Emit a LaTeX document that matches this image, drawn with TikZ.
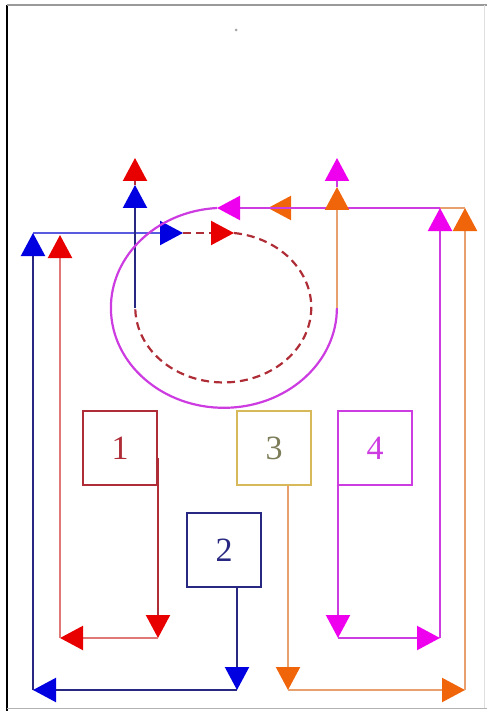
\documentclass[tikz,border=0pt]{standalone}
\usepackage{fontspec}
\setmainfont{Liberation Serif}
\usetikzlibrary{positioning,arrows.meta}
\definecolor{redtip}{RGB}{232,0,0}
\definecolor{redd}{RGB}{175,45,55}
\definecolor{redl}{RGB}{225,120,120}
\definecolor{bluetip}{RGB}{0,0,225}
\definecolor{bluel}{RGB}{40,40,130}
\definecolor{bluem}{RGB}{90,90,225}
\definecolor{magtip}{RGB}{238,0,238}
\definecolor{magl}{RGB}{205,60,225}
\definecolor{ortip}{RGB}{240,100,10}
\definecolor{orl}{RGB}{232,160,110}
\definecolor{boxy}{RGB}{215,185,90}
\definecolor{txty}{RGB}{125,125,90}

\begin{document}
\begin{tikzpicture}[x=1pt,y=-1pt,
    box/.style={draw,line width=1.8pt,minimum size=74pt,inner sep=0pt,font=\fontsize{34}{34}\selectfont},
    arr/.style={-{Triangle[length=23pt,width=24pt,color=#1]}},
    ln/.style={line width=2.2pt},
    dsh/.style={dash pattern=on 8pt off 5pt}]
    \useasboundingbox (0,0) rectangle (487,711);
    \draw[black,line width=2.5pt] (7,5) -- (7,711);
    \draw[gray!80,line width=1.5pt] (7,5) -- (487,5);
    \draw[gray!60,line width=1pt] (7,708) -- (487,708);
    \draw[gray!25,line width=1pt] (484,5) -- (484,708);
    \fill[gray!70] (236,30) circle (1.5pt);
    \node[box,draw=redd,text=redd] (b1) at (120,448) {1};
    \node[box,draw=bluel,text=bluel] (b2) at (224,550) {2};
    \node[box,draw=boxy,text=txty] (b3) at (274,448) {3};
    \node[box,draw=magl,text=magl] (b4) at (375,448) {4};
    \coordinate (r0) at (158,458);
    \coordinate (r1) at (158,638);
    \coordinate (r2) at (60,638);
    \coordinate (r3) at (60,235);
    \coordinate (u0) at (237,587);
    \coordinate (u1) at (237,690);
    \coordinate (u2) at (33,690);
    \coordinate (u3) at (33,233);
    \coordinate (u4) at (183,233);
    \coordinate (d0) at (234,233);
    \coordinate (d1) at (135,308);
    \coordinate (u5) at (135,185);
    \coordinate (r4) at (135,158);
    \coordinate (o0) at (288,486);
    \coordinate (o1) at (288,690);
    \coordinate (o2) at (465,690);
    \coordinate (o3) at (465,208);
    \coordinate (o4) at (268,208);
    \coordinate (m0) at (338,486);
    \coordinate (m1) at (338,638);
    \coordinate (m2) at (440,638);
    \coordinate (m3) at (440,208);
    \coordinate (m4) at (217,208);
    \coordinate (m5) at (337,308);
    \coordinate (o5) at (337,187);
    \coordinate (m6) at (337,158);
    \draw[ln,bluem,arr=bluetip] (u3) -- (u4);
    \draw[ln,redd,arr=redtip] (r0) -- (r1);
    \draw[ln,redl,arr=redtip] (r1) -- (r2);
    \draw[ln,redl,arr=redtip] (r2) -- (r3);
    \draw[ln,bluel,arr=bluetip] (u0) -- (u1);
    \draw[ln,bluel,arr=bluetip] (u1) -- (u2);
    \draw[ln,bluel,arr=bluetip] (u2) -- (u3);
    \draw[ln,redd,dsh,arr=redtip] (u4) -- (d0);
    \draw[ln,redd,dsh] (d0) arc[start angle=-83,end angle=180,x radius=88,y radius=75];
    \draw[ln,bluel,arr=bluetip] (d1) -- (u5);
    \draw[ln,redd,arr=redtip] (u5) -- (r4);
    \draw[ln,orl,arr=ortip] (o0) -- (o1);
    \draw[ln,orl,arr=ortip] (o1) -- (o2);
    \draw[ln,orl,arr=ortip] (o2) -- (o3);
    \draw[ln,orl,arr=ortip] (o3) -- (o4);
    \draw[ln,magl,arr=magtip] (m0) -- (m1);
    \draw[ln,magl,arr=magtip] (m1) -- (m2);
    \draw[ln,magl,arr=magtip] (m2) -- (m3);
    \draw[ln,magl,arr=magtip] (m3) -- (m4);
    \draw[ln,magl] (m4) arc[start angle=-93.5,end angle=-360,x radius=113,y radius=100];
    \draw[ln,orl,arr=ortip] (m5) -- (o5);
    \draw[ln,magl,arr=magtip] (o5) -- (m6);
\end{tikzpicture}
\end{document}
